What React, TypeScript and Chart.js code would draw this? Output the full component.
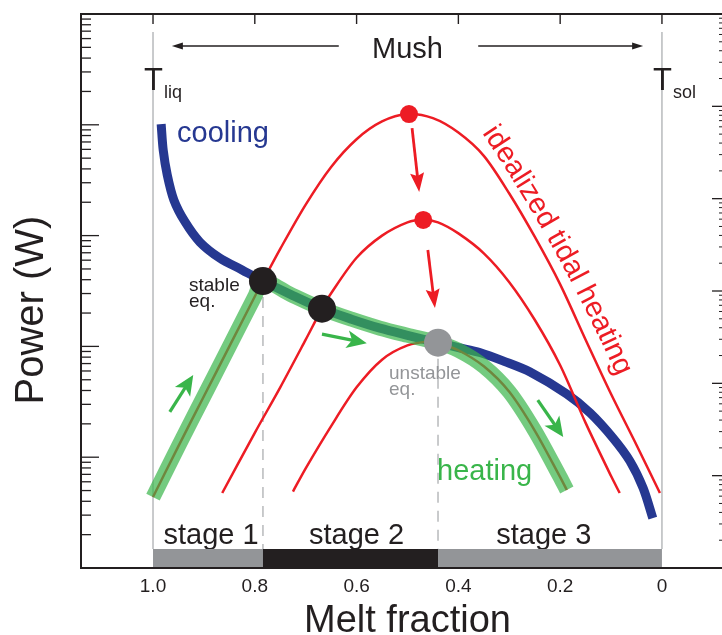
import React, { useEffect, useRef } from 'react';
import { Chart, registerables } from 'chart.js';

Chart.register(...registerables);

// ---- data (x = melt fraction, y = power, log scale) ----
const COOLING_X = [0.984, 0.98, 0.972, 0.959, 0.937, 0.908, 0.869, 0.825, 0.784, 0.73, 0.668, 0.61, 0.554, 0.5, 0.44, 0.4, 0.358, 0.31, 0.259, 0.187, 0.141, 0.096, 0.063, 0.037, 0.018];
const COOLING_Y = [10160, 5930, 3524, 2094, 1327, 875, 628, 490, 389, 295, 219, 176, 146, 126, 108, 97.7, 88.1, 73.3, 58.7, 37.2, 25.1, 14.9, 9.25, 5.27, 2.82];

const TIDAL_HIGH_X = [1.0, 0.95, 0.9, 0.85, 0.8, 0.784, 0.75, 0.7, 0.65, 0.6, 0.55, 0.5, 0.45, 0.4, 0.35, 0.3, 0.25, 0.2, 0.15, 0.1, 0.05, 0.004];
const TIDAL_HIGH_Y = [4.37, 12.6, 35.5, 100, 282, 389, 759, 1905, 4169, 7413, 10715, 12503, 11482, 8511, 5248, 2399, 977, 363, 115, 37.2, 12.9, 4.75];

const TIDAL_MID_X = [0.864, 0.8, 0.75, 0.7, 0.668, 0.65, 0.6, 0.55, 0.5, 0.469, 0.44, 0.4, 0.35, 0.3, 0.25, 0.2, 0.15, 0.1, 0.083];
const TIDAL_MID_Y = [4.75, 16.6, 42.7, 115, 219, 302, 631, 1000, 1318, 1384, 1318, 1047, 692, 380, 174, 67.6, 20.4, 6.76, 4.75];

const TIDAL_LOW_X = [0.725, 0.7, 0.65, 0.6, 0.55, 0.5, 0.456, 0.44, 0.4, 0.35, 0.3, 0.25, 0.2, 0.187];
const TIDAL_LOW_Y = [4.9, 7.94, 19.1, 42.7, 75.9, 102, 111, 108, 92.3, 66.1, 38.9, 17.4, 6.61, 5.06];

const STABLE_EQ_X = [0.784, 0.668];
const STABLE_EQ_Y = [389, 219];
const UNSTABLE_EQ_X = [0.44];
const UNSTABLE_EQ_Y = [108];
const PEAK_X = [0.497, 0.469];
const PEAK_Y = [12500, 1384];

// arrows: [xFrom, yFrom, xTo, yTo]
const RED_ARROWS = [
  [0.491, 9350, 0.477, 2480],
  [0.46, 741, 0.446, 222],
];
const GREEN_ARROWS = [
  [0.967, 25.6, 0.921, 55.2],
  [0.668, 129, 0.58, 107],
  [0.244, 32.8, 0.194, 15.2],
];

const X_TICKS = [1.0, 0.8, 0.6, 0.4, 0.2, 0];
const X_TICK_LABELS = ['1.0', '0.8', '0.6', '0.4', '0.2', '0'];
const X_MIN = -0.118;
const X_MAX = 1.1415;
const Y_MIN = 1;
const Y_MAX = 1e5;
const Y2_MIN = 1;
const Y2_MAX = 1e6;

const STAGE_EDGES = [1.0, 0.784, 0.44, 0];
const STAGE_LABELS = ['stage 1', 'stage 2', 'stage 3'];
const STAGE_LABEL_X = [0.886, 0.6, 0.232];
const LIQUIDUS_X = 1.0;
const SOLIDUS_X = 0;
const MUSH_CENTER_X = 0.5;
const MUSH_ARROWS = [
  [0.635, 0.963],
  [0.361, 0.037],
];

// ---- styles ----
const FONT = '"Liberation Sans", Arial, Helvetica, sans-serif';
const INK = '#231f20';
const BLUE = '#263891';
const RED = '#ed1c24';
const GREEN = '#39b54a';
const GREEN_BAND = 'rgba(57,181,74,0.7)';
const GREY = '#939598';
const LIGHT_GREY = '#bcbec0';

const pts = (xs: number[], ys: number[]) => xs.map((x, i) => ({ x, y: ys[i] }));

function drawArrow(
  ctx: CanvasRenderingContext2D,
  x1: number, y1: number, x2: number, y2: number,
  color: string, lw: number, headLen: number, headHalf: number, notch: number
) {
  const a = Math.atan2(y2 - y1, x2 - x1);
  const c = Math.cos(a);
  const s = Math.sin(a);
  const bx = x2 - headLen * c;
  const by = y2 - headLen * s;
  const nx = x2 - (headLen - notch) * c;
  const ny = y2 - (headLen - notch) * s;
  ctx.save();
  ctx.strokeStyle = color;
  ctx.fillStyle = color;
  ctx.lineWidth = lw;
  ctx.lineCap = 'butt';
  ctx.beginPath();
  ctx.moveTo(x1, y1);
  ctx.lineTo(nx + c, ny + s);
  ctx.stroke();
  ctx.beginPath();
  ctx.moveTo(x2, y2);
  ctx.lineTo(bx - s * headHalf, by + c * headHalf);
  ctx.lineTo(nx, ny);
  ctx.lineTo(bx + s * headHalf, by - c * headHalf);
  ctx.closePath();
  ctx.fill();
  ctx.restore();
}

function drawArcText(
  ctx: CanvasRenderingContext2D, text: string, x0: number, y0: number, a0: number, a1: number
) {
  const total = ctx.measureText(text).width;
  let x = x0;
  let y = y0;
  let s = 0;
  for (const ch of text) {
    const w = ctx.measureText(ch).width;
    const a = ((a0 + ((a1 - a0) * (s + w / 2)) / total) * Math.PI) / 180;
    ctx.save();
    ctx.translate(x, y);
    ctx.rotate(a);
    ctx.fillText(ch, 0, 0);
    ctx.restore();
    x += w * Math.cos(a);
    y += w * Math.sin(a);
    s += w;
  }
}

const decorations = {
  id: 'decorations',
  beforeDatasetsDraw(chart: any) {
    const { ctx, chartArea, scales } = chart;
    const xs = scales.x;
    const ys = scales.y;
    const barTop = chartArea.bottom - 19;
    ctx.save();
    ctx.strokeStyle = LIGHT_GREY;
    ctx.lineWidth = 1.6;
    [LIQUIDUS_X, SOLIDUS_X].forEach((v) => {
      const px = xs.getPixelForValue(v);
      ctx.beginPath();
      ctx.moveTo(px, chartArea.top + 18);
      ctx.lineTo(px, barTop);
      ctx.stroke();
    });
    ctx.setLineDash([11, 8]);
    ctx.lineWidth = 1.6;
    const eqs = [
      [STABLE_EQ_X[0], STABLE_EQ_Y[0]],
      [UNSTABLE_EQ_X[0], UNSTABLE_EQ_Y[0]],
    ];
    eqs.forEach(([vx, vy]) => {
      const px = xs.getPixelForValue(vx);
      const py = ys.getPixelForValue(vy);
      ctx.beginPath();
      ctx.moveTo(px, py + 16);
      ctx.lineTo(px, barTop);
      ctx.stroke();
    });
    ctx.restore();
  },
  afterDatasetsDraw(chart: any) {
    const { ctx, chartArea, scales } = chart;
    const xs = scales.x;
    const ys = scales.y;
    const y2 = scales.y2;
    const P = (vx: number, vy: number) => [xs.getPixelForValue(vx), ys.getPixelForValue(vy)];
    ctx.save();

    RED_ARROWS.forEach(([a, b, c, d]) => {
      const [x1, yA] = P(a, b);
      const [x2, yB] = P(c, d);
      drawArrow(ctx, x1, yA, x2, yB, RED, 2.8, 19, 7, 3);
    });
    GREEN_ARROWS.forEach(([a, b, c, d]) => {
      const [x1, yA] = P(a, b);
      const [x2, yB] = P(c, d);
      drawArrow(ctx, x1, yA, x2, yB, GREEN, 3.2, 20, 9, 5);
    });

    const mushY = 46;
    MUSH_ARROWS.forEach(([from, to]) => {
      drawArrow(ctx, xs.getPixelForValue(from), mushY, xs.getPixelForValue(to), mushY, INK, 1.4, 11, 3.6, 0);
    });

    ctx.textBaseline = 'alphabetic';
    ctx.fillStyle = INK;
    ctx.font = `29px ${FONT}`;
    ctx.textAlign = 'center';
    ctx.fillText('Mush', xs.getPixelForValue(MUSH_CENTER_X), 58);

    const drawT = (v: number, sub: string) => {
      const px = xs.getPixelForValue(v);
      ctx.fillStyle = INK;
      ctx.font = `31px ${FONT}`;
      ctx.textAlign = 'center';
      ctx.fillText('T', px + 0.5, 90);
      ctx.font = `18px ${FONT}`;
      ctx.textAlign = 'left';
      ctx.fillText(sub, px + 11, 98);
    };
    drawT(LIQUIDUS_X, 'liq');
    drawT(SOLIDUS_X, 'sol');

    ctx.textAlign = 'left';
    ctx.font = `29px ${FONT}`;
    ctx.fillStyle = BLUE;
    ctx.fillText('cooling', 177, 142);
    ctx.fillStyle = GREEN;
    ctx.fillText('heating', 437, 480);
    ctx.fillStyle = RED;
    ctx.font = `29px ${FONT}`;
    drawArcText(ctx, 'idealized tidal heating', 482, 133, 56, 66);

    ctx.font = `19px ${FONT}`;
    ctx.fillStyle = INK;
    ctx.fillText('stable', 189, 291);
    ctx.fillText('eq.', 189, 307);
    ctx.fillStyle = GREY;
    ctx.fillText('unstable', 389, 379);
    ctx.fillText('eq.', 389, 395);

    ctx.font = `29px ${FONT}`;
    ctx.fillStyle = INK;
    ctx.textAlign = 'center';
    STAGE_LABELS.forEach((t, i) => {
      ctx.fillText(t, xs.getPixelForValue(STAGE_LABEL_X[i]), 544);
    });
    const barTop = chartArea.bottom - 19;
    for (let i = 0; i < STAGE_EDGES.length - 1; i++) {
      const a = xs.getPixelForValue(STAGE_EDGES[i]);
      const b = xs.getPixelForValue(STAGE_EDGES[i + 1]);
      ctx.fillStyle = i === 1 ? INK : GREY;
      ctx.fillRect(Math.min(a, b), barTop, Math.abs(b - a), chartArea.bottom - barTop);
    }

    ctx.strokeStyle = INK;
    ctx.lineWidth = 2;
    ctx.beginPath();
    ctx.moveTo(chartArea.right + 2, chartArea.top);
    ctx.lineTo(chartArea.left, chartArea.top);
    ctx.lineTo(chartArea.left, chartArea.bottom);
    ctx.lineTo(chartArea.right + 2, chartArea.bottom);
    ctx.stroke();

    ctx.lineWidth = 1.3;
    for (let e = 0; e <= 5; e++) {
      const base = Math.pow(10, e);
      if (base < Y_MIN || base > Y_MAX) continue;
      const py = ys.getPixelForValue(base);
      ctx.beginPath();
      ctx.moveTo(chartArea.left, py);
      ctx.lineTo(chartArea.left + 18, py);
      ctx.stroke();
      for (let k = 2; k <= 9; k++) {
        const v = k * base;
        if (v > Y_MAX) continue;
        const q = ys.getPixelForValue(v);
        ctx.beginPath();
        ctx.moveTo(chartArea.left, q);
        ctx.lineTo(chartArea.left + 10, q);
        ctx.stroke();
      }
    }
    for (let e = 0; e <= 6; e++) {
      const base = Math.pow(10, e);
      if (base < Y2_MIN || base > Y2_MAX) continue;
      const py = y2.getPixelForValue(base);
      ctx.lineWidth = 1.3;
      ctx.beginPath();
      ctx.moveTo(chartArea.right, py);
      ctx.lineTo(chartArea.right - 10, py);
      ctx.stroke();
      ctx.lineWidth = 1;
      for (let k = 2; k <= 9; k++) {
        const v = k * base;
        if (v > Y2_MAX) continue;
        const q = y2.getPixelForValue(v);
        ctx.beginPath();
        ctx.moveTo(chartArea.right, q);
        ctx.lineTo(chartArea.right - 3, q);
        ctx.stroke();
      }
    }
    ctx.lineWidth = 1.4;
    X_TICKS.forEach((v) => {
      const px = xs.getPixelForValue(v);
      ctx.beginPath();
      ctx.moveTo(px, chartArea.top);
      ctx.lineTo(px, chartArea.top + 10);
      ctx.stroke();
    });

    ctx.fillStyle = INK;
    ctx.font = `19px ${FONT}`;
    ctx.textAlign = 'center';
    X_TICKS.forEach((v, i) => {
      ctx.fillText(X_TICK_LABELS[i], xs.getPixelForValue(v), chartArea.bottom + 24);
    });

    ctx.font = `38px ${FONT}`;
    ctx.fillText('Melt fraction', xs.getPixelForValue(0.5), chartArea.bottom + 64);
    ctx.save();
    ctx.translate(43, 310);
    ctx.rotate(-Math.PI / 2);
    ctx.font = `40px ${FONT}`;
    ctx.fillText('Power (W)', 0, 0);
    ctx.restore();

    ctx.restore();
  },
};

export default function App() {
  const ref = useRef<HTMLCanvasElement>(null);

  useEffect(() => {
    const canvas = ref.current;
    if (!canvas) return;

    const cooling = pts(COOLING_X, COOLING_Y);
    const high = pts(TIDAL_HIGH_X, TIDAL_HIGH_Y);
    const mid = pts(TIDAL_MID_X, TIDAL_MID_Y);
    const low = pts(TIDAL_LOW_X, TIDAL_LOW_Y);
    const stableX = STABLE_EQ_X[0];
    const unstableX = UNSTABLE_EQ_X[0];
    const heatingPath = [
      ...high.filter((p) => p.x > stableX),
      ...cooling.filter((p) => p.x <= stableX && p.x > unstableX),
      ...low.filter((p) => p.x <= unstableX),
    ];

    const curve = (data: any[], color: string, width: number, order: number) => ({
      data,
      borderColor: color,
      borderWidth: width,
      pointRadius: 0,
      fill: false,
      tension: 0.3,
      borderCapStyle: 'butt' as const,
      borderJoinStyle: 'round' as const,
      order,
    });
    const dots = (data: any[], color: string, r: number, order: number) => ({
      data,
      showLine: false,
      pointRadius: r,
      pointBackgroundColor: color,
      pointBorderWidth: 0,
      borderColor: color,
      order,
    });

    const chart = new Chart(canvas, {
      type: 'line',
      data: {
        datasets: [
          curve(cooling, BLUE, 9, 6),
          curve(high, RED, 2.5, 5),
          curve(mid, RED, 2.5, 5),
          curve(low, RED, 2.5, 5),
          curve(heatingPath, GREEN_BAND, 15, 4),
          dots(pts(PEAK_X, PEAK_Y), RED, 9, 2),
          dots(pts(STABLE_EQ_X, STABLE_EQ_Y), INK, 14, 1),
          dots(pts(UNSTABLE_EQ_X, UNSTABLE_EQ_Y), GREY, 14, 1),
        ] as any,
      },
      options: {
        responsive: false,
        animation: false,
        events: [],
        layout: { autoPadding: false, padding: { left: 81, right: 0, top: 14, bottom: 67 } },
        scales: {
          x: { type: 'linear', reverse: true, min: X_MIN, max: X_MAX, display: false },
          y: { type: 'logarithmic', min: Y_MIN, max: Y_MAX, display: false },
          y2: { type: 'logarithmic', min: Y2_MIN, max: Y2_MAX, display: false, position: 'right' },
        },
        plugins: { legend: { display: false }, tooltip: { enabled: false } },
      } as any,
      plugins: [decorations],
    });

    return () => chart.destroy();
  }, []);

  return (
    <canvas
      ref={ref}
      width={722}
      height={635}
      style={{ position: 'absolute', left: 0, top: 0, display: 'block', background: '#ffffff' }}
    />
  );
}
